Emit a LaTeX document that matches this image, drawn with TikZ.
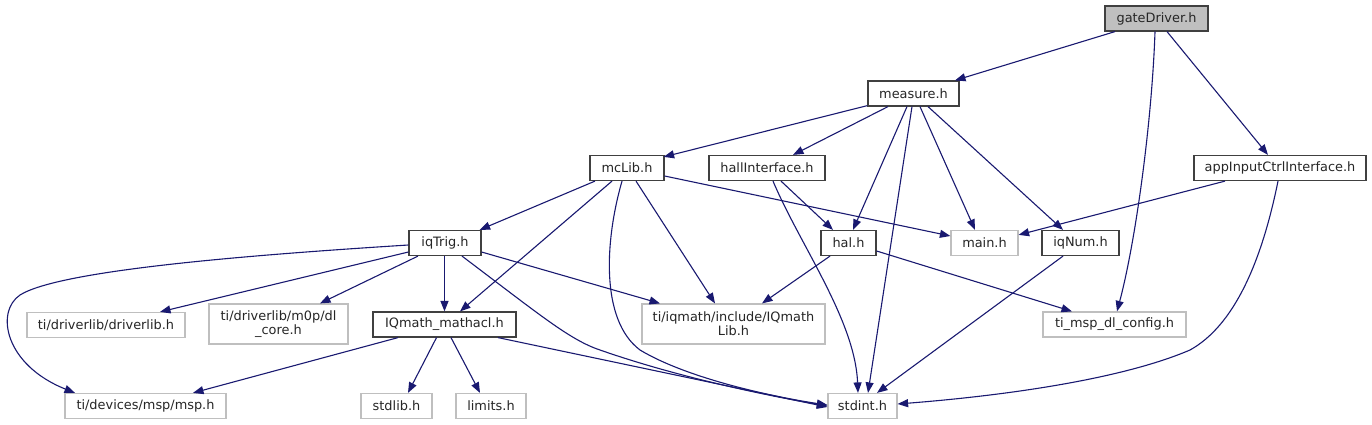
\documentclass[tikz,border=0pt]{standalone}
\usepackage{fontspec}
\setmainfont{DejaVu Sans}
\usetikzlibrary{arrows.meta,calc}
\definecolor{edgecol}{HTML}{191970}
\definecolor{darkb}{HTML}{404040}
\definecolor{lightb}{HTML}{BFBFBF}
\begin{document}
\begin{tikzpicture}[x=1pt,y=-1pt,
  doc/.style={draw=darkb, line width=1.2pt, fill=white, minimum height=25pt, inner sep=0pt,
              font=\fontsize{12.9}{14}\selectfont, text=black!85},
  ext/.style={doc, draw=lightb},
  edge/.style={draw=edgecol, line width=1.1pt, -{Triangle[length=10.5pt,width=8pt]}}]
\useasboundingbox (0,0) rectangle (1372,425);

% nodes
\node[doc, fill=lightb, minimum width=103pt] (gate) at (1156.5,18.5) {gateDriver.h};
\node[doc, minimum width=91pt] (measure) at (913.5,93.5) {measure.h};
\node[doc, minimum width=74pt] (mclib) at (627,168) {mcLib.h};
\node[doc, minimum width=116pt] (hall) at (767,168) {hallInterface.h};
\node[doc, minimum width=172pt] (app) at (1280,168) {appInputCtrlInterface.h};
\node[doc, minimum width=72pt] (iqtrig) at (445,243) {iqTrig.h};
\node[doc, minimum width=55pt] (hal) at (848.5,243) {hal.h};
\node[ext, minimum width=67pt] (main) at (984.5,243) {main.h};
\node[doc, minimum width=77pt] (iqnum) at (1080.5,243) {iqNum.h};
\node[ext, minimum width=158pt] (driverlib) at (106,325) {ti/driverlib/driverlib.h};
\node[ext, minimum width=139pt, minimum height=40pt, align=center] (dlcore) at (278.5,324) {ti/driverlib/m0p/dl\\\_core.h};
\node[doc, minimum width=143pt] (acl) at (444.5,324.5) {IQmath\_mathacl.h};
\node[ext, minimum width=183pt, minimum height=40pt, align=center] (iqlib) at (733.5,324) {ti/iqmath/include/IQmath\\Lib.h};
\node[ext, minimum width=143pt] (ticfg) at (1114.5,324.5) {ti\_msp\_dl\_config.h};
\node[ext, minimum width=161pt] (msp) at (145.5,406) {ti/devices/msp/msp.h};
\node[ext, minimum width=71pt] (stdlib) at (396.5,406) {stdlib.h};
\node[ext, minimum width=70pt] (limits) at (491,406) {limits.h};
\node[ext, minimum width=69pt] (stdint) at (862.5,406) {stdint.h};

% edges from gateDriver.h
\draw[edge] ($(gate.south)+(-41.5,0)$) -- ($(measure.north)+(41.5,0)$);
\draw[edge] ($(gate.south)+(-1.5,0)$) .. controls (1152,120) and (1136,240) .. ($(ticfg.north)+(2.5,0)$);
\draw[edge] ($(gate.south)+(10.5,0)$) -- ($(app.north)+(-12,0)$);

% edges from measure.h
\draw[edge] ($(measure.south west)+(0,-1)$) -- ($(mclib.north east)+(-1,2)$);
\draw[edge] ($(measure.south)+(-25.5,0)$) -- ($(hall.north)+(26,0)$);
\draw[edge] ($(measure.south)+(-6.5,0)$) -- ($(hal.north)+(4.5,0)$);
\draw[edge] ($(measure.south)+(-1.5,0)$) -- ($(stdint.north)+(5.5,0)$);
\draw[edge] ($(measure.south)+(6.5,0)$) -- ($(main.north)+(-9.5,0)$);
\draw[edge] ($(measure.south)+(14.5,0)$) -- ($(iqnum.north)+(-17.5,0)$);

% edges from mcLib.h
\draw[edge] ($(mclib.south)+(-32,0)$) -- ($(iqtrig.north east)+(-2,0)$);
\draw[edge] ($(mclib.south)+(-15,0)$) -- ($(acl.north)+(15.5,0)$);
\draw[edge] ($(mclib.south)+(-5,0)$) .. controls (605,240) and (600,320) .. (640,350)
  .. controls (690,380) and (780,398) .. ($(stdint.west)+(0,-1)$);
\draw[edge] ($(mclib.south)+(9,0)$) -- ($(iqlib.north)+(-18.5,0)$);
\draw[edge] ($(mclib.east)+(0,8)$) -- ($(main.west)+(0,-7)$);

% edges from hallInterface.h
\draw[edge] ($(hall.south)+(14,0)$) -- ($(hal.north)+(-15.5,0)$);
\draw[edge] ($(hall.south)+(6,0)$) .. controls (800,245) and (855,320) .. ($(stdint.north)+(-4.5,0)$);

% edges from appInputCtrlInterface.h
\draw[edge] ($(app.south)+(-55,0)$) -- ($(main.north east)+(0,5)$);
\draw[edge] ($(app.south)+(-2,0)$) .. controls (1262,260) and (1235,325) .. (1190,350)
  .. controls (1120,380) and (1000,396) .. ($(stdint.east)+(0,-2)$);

% edges from iqTrig.h
\draw[edge] ($(iqtrig.west)+(0,9)$) -- ($(driverlib.north)+(54,0)$);
\draw[edge] ($(iqtrig.south)+(-27,0)$) -- ($(dlcore.north)+(41.5,0)$);
\draw[edge] ($(iqtrig.south)+(-0.5,0)$) -- ($(acl.north)+(0,0)$);
\draw[edge] ($(iqtrig.west)+(0,2)$) .. controls (250,255) and (60,270) .. (20,295)
  .. controls (-5,312) and (5,365) .. ($(msp.north)+(-70.5,0)$);
\draw[edge] ($(iqtrig.east)+(0,9)$) -- ($(iqlib.north)+(-73.5,0)$);
\draw[edge] ($(iqtrig.south)+(17,0)$) .. controls (540,315) and (570,340) .. (600,350)
  .. controls (680,378) and (770,396) .. ($(stdint.west)+(0,0)$);

% edges from hal.h
\draw[edge] ($(hal.south)+(-18.5,0)$) -- ($(iqlib.north)+(28.5,0)$);
\draw[edge] ($(hal.east)+(0,8)$) -- ($(ticfg.north)+(-42.5,0)$);

% edges from iqNum.h
\draw[edge] ($(iqnum.south)+(-17.5,0)$) -- ($(stdint.north)+(14.5,0)$);

% edges from IQmath_mathacl.h
\draw[edge] ($(acl.south)+(-46.5,0)$) -- ($(msp.north)+(47.5,0)$);
\draw[edge] ($(acl.south)+(-8,0)$) -- ($(stdlib.north)+(11.5,0)$);
\draw[edge] ($(acl.south)+(6.5,0)$) -- ($(limits.north)+(-11,0)$);
\draw[edge] ($(acl.south)+(53.5,0)$) -- ($(stdint.west)+(0,1)$);
\end{tikzpicture}
\end{document}
